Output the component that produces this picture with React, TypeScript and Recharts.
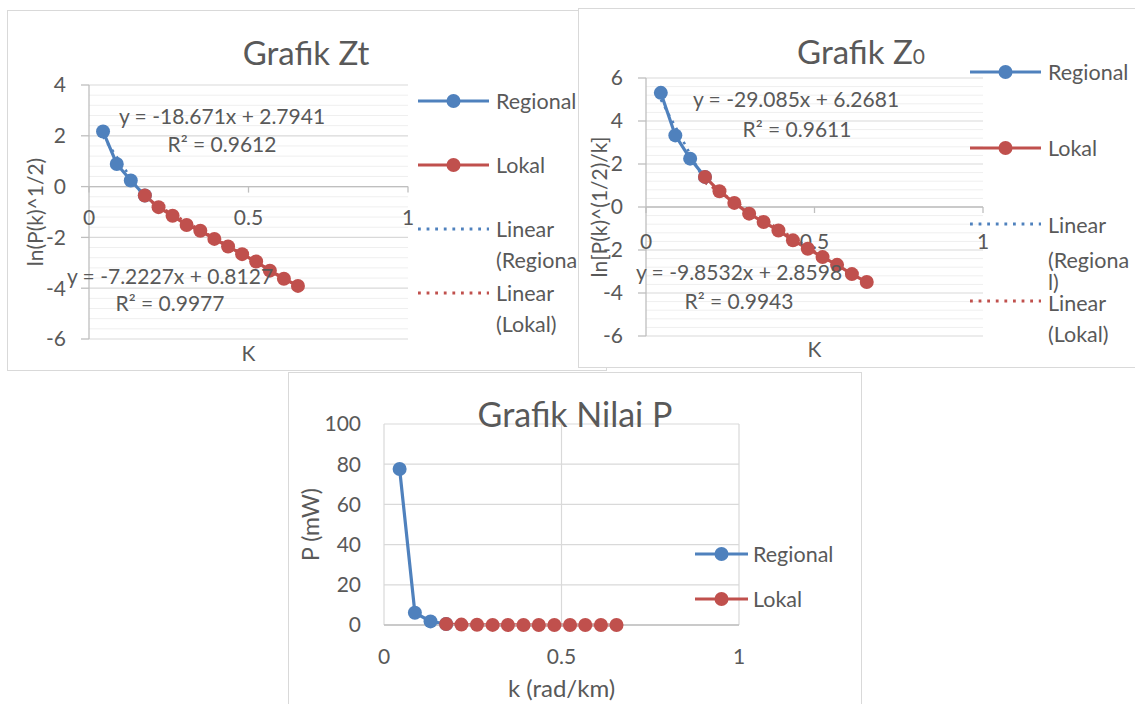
import React from 'react';
import { LineChart, Line, XAxis, YAxis, CartesianGrid, ReferenceLine, ReferenceDot } from 'recharts';

const FONT = 'Lato, "Open Sans", sans-serif';
const TXT = '#595959';
const BLUE = '#4F81BD';
const RED = '#C0504D';
const GRID = '#d9d9d9';
const MINOR = '#efefef';
const AXIS = '#bfbfbf';
const FRAME = '#d9d9d9';
const FS = 21;
const LEG_FS = 21.5;

// wavenumber k (rad/km)
const kRegional = [0.044, 0.087, 0.131, 0.175];
const kLokal = [0.175, 0.218, 0.262, 0.306, 0.349, 0.393, 0.436, 0.48, 0.524, 0.567, 0.611, 0.655];

// Grafik Zt : ln(P(k)^1/2)
const ztRegional = [2.17, 0.89, 0.24, -0.35];
const ztLokal = [-0.35, -0.81, -1.15, -1.51, -1.74, -2.06, -2.36, -2.66, -2.95, -3.31, -3.63, -3.91];
const ztRegTrendK = [0.044, 0.175];
const ztRegTrendY = [1.97, -0.47];
const ztLokTrendK = [0.175, 0.655];
const ztLokTrendY = [-0.45, -3.92];

// Grafik Z0 : ln[P(k)^(1/2)/k]
const zoRegional = [5.31, 3.33, 2.25, 1.4];
const zoLokal = [1.4, 0.73, 0.19, -0.31, -0.7, -1.09, -1.55, -1.94, -2.33, -2.69, -3.12, -3.49];
const zoRegTrendK = [0.044, 0.175];
const zoRegTrendY = [4.99, 1.18];
const zoLokTrendK = [0.175, 0.655];
const zoLokTrendY = [1.13, -3.59];

// Grafik Nilai P : P (mW)
const pRegional = [77.6, 6.1, 1.8, 0.5];
const pLokal = [0.5, 0.2, 0.1, 0.05, 0.03, 0.016, 0.009, 0.005, 0.003, 0.0013, 0.0007, 0.0004];

// tick labels
const kTicks = [0, 0.5, 1];
const ztTicks = [-6, -4, -2, 0, 2, 4];
const zoTicks = [-6, -4, -2, 0, 2, 4, 6];
const pTicks = [0, 20, 40, 60, 80, 100];

const zip = (ks: number[], ys: number[]) => ks.map((k, i) => ({ k, y: ys[i] }));

const minorValues = (min: number, max: number, major: number, minor: number) => {
  const out: number[] = [];
  const n = Math.round((max - min) / minor);
  for (let i = 1; i < n; i++) {
    const v = Math.round((min + i * minor) * 1000) / 1000;
    if (Math.abs(v / major - Math.round(v / major)) > 1e-6) out.push(v);
  }
  return out;
};

const txt = { fill: TXT, fontFamily: FONT };

const zeroTick = (label: string, offset: number) => (p: any) => (
  <g>
    <line x1={p.cx} y1={p.cy} x2={p.cx} y2={p.cy + 6} stroke={AXIS} strokeWidth={1.3} />
    <text x={p.cx} y={p.cy + offset} textAnchor="middle" dominantBaseline="central" fontSize={FS} {...txt}>
      {label}
    </text>
  </g>
);

const dotStyle = (c: string) => ({ r: 7, fill: c, stroke: c, strokeWidth: 0 });

type LegendItem = { y: number; color: string; dotted?: boolean; lines: { text: string; y: number }[] };

const Legend = ({ items, x1, x2, tx, ox, oy, w, h }: { items: LegendItem[]; x1: number; x2: number; tx: number; ox: number; oy: number; w: number; h: number }) => (
  <svg width={w} height={h} style={{ position: 'absolute', left: 0, top: 0, pointerEvents: 'none' }}>
    {items.map((it, i) => (
      <g key={i}>
        <line
          x1={x1 - ox}
          x2={x2 - ox}
          y1={it.y - oy}
          y2={it.y - oy}
          stroke={it.color}
          strokeWidth={it.dotted ? 2.8 : 3.2}
          strokeDasharray={it.dotted ? '2.8 5.8' : undefined}
        />
        {!it.dotted && <circle cx={(x1 + x2) / 2 - ox} cy={it.y - oy} r={7} fill={it.color} />}
        {it.lines.map((l, j) => (
          <text key={j} x={tx - ox} y={l.y - oy} dominantBaseline="central" fontSize={LEG_FS} {...txt}>
            {l.text}
          </text>
        ))}
      </g>
    ))}
  </svg>
);

const Labels = ({ items, ox, oy, w, h }: { items: { text: React.ReactNode; x: number; y: number; size: number; base?: boolean }[]; ox: number; oy: number; w: number; h: number }) => (
  <svg width={w} height={h} style={{ position: 'absolute', left: 0, top: 0, pointerEvents: 'none' }}>
    {items.map((it, i) => (
      <text
        key={i}
        x={it.x - ox}
        y={it.y - oy}
        textAnchor="middle"
        dominantBaseline={it.base ? 'alphabetic' : 'central'}
        fontSize={it.size}
        {...txt}
      >
        {it.text}
      </text>
    ))}
  </svg>
);

const frame = (left: number, top: number, width: number, height: number, z: number): React.CSSProperties => ({
  position: 'absolute',
  left,
  top,
  width,
  height,
  border: `1px solid ${FRAME}`,
  background: '#fff',
  boxSizing: 'border-box',
  zIndex: z,
  overflow: 'hidden',
});

const ChartZt = () => {
  const W = 598;
  const H = 359;
  const ox = 8;
  const oy = 11;
  const minor = minorValues(-6, 4, 2, 0.4);
  return (
    <div style={frame(7, 10, 600, 361, 1)}>
      <div style={{ position: 'absolute', left: 0, top: 0 }}>
        <LineChart width={W} height={H} margin={{ top: 74, right: 198, left: 0, bottom: 0 }}>
          {minor.map((v) => (
            <ReferenceLine key={v} y={v} stroke={MINOR} strokeWidth={1} />
          ))}
          <CartesianGrid vertical={false} stroke={GRID} strokeWidth={1.2} />
          <XAxis
            type="number"
            dataKey="k"
            domain={[0, 1]}
            ticks={kTicks}
            tick={false}
            axisLine={false}
            tickLine={false}
            height={31}
            label={{ value: 'K', position: 'insideBottom', offset: 9, fontSize: FS, ...txt }}
          />
          <YAxis
            type="number"
            domain={[-6, 4]}
            ticks={ztTicks}
            width={81}
            axisLine={{ stroke: AXIS, strokeWidth: 1.3 }}
            tickLine={{ stroke: AXIS, strokeWidth: 1.3 }}
            tickSize={8}
            tickMargin={15}
            tick={{ fontSize: FS, ...txt }}
            label={{ value: 'ln(P(k)^1/2)', angle: -90, position: 'insideLeft', offset: 28, fontSize: FS, ...txt, style: { textAnchor: 'middle' } }}
          />
          <ReferenceLine y={0} stroke={AXIS} strokeWidth={1.3} />
          {kTicks.map((t) => (
            <ReferenceDot key={t} x={t} y={0} r={0} shape={zeroTick(String(t), 30)} />
          ))}
          <Line data={zip(kRegional, ztRegional)} dataKey="y" stroke={BLUE} strokeWidth={3.2} dot={dotStyle(BLUE)} activeDot={false} isAnimationActive={false} />
          <Line data={zip(kLokal, ztLokal)} dataKey="y" stroke={RED} strokeWidth={3.2} dot={dotStyle(RED)} activeDot={false} isAnimationActive={false} />
          <Line data={zip(ztRegTrendK, ztRegTrendY)} dataKey="y" stroke={BLUE} strokeWidth={2.6} strokeDasharray="2.6 5.4" dot={false} activeDot={false} isAnimationActive={false} />
          <Line data={zip(ztLokTrendK, ztLokTrendY)} dataKey="y" stroke={RED} strokeWidth={2.6} strokeDasharray="2.6 5.4" dot={false} activeDot={false} isAnimationActive={false} />
        </LineChart>
      </div>
      <Labels
        ox={ox}
        oy={oy}
        w={W}
        h={H}
        items={[
          { text: 'Grafik Zt', x: 306, y: 65, size: 33, base: true },
          { text: 'y = -18.671x + 2.7941', x: 222, y: 115, size: FS },
          { text: 'R² = 0.9612', x: 222, y: 143, size: FS },
          { text: 'y = -7.2227x + 0.8127', x: 170, y: 275, size: FS },
          { text: 'R² = 0.9977', x: 170, y: 302, size: FS },
        ]}
      />
      <Legend
        ox={ox}
        oy={oy}
        w={W}
        h={H}
        x1={418}
        x2={489}
        tx={496}
        items={[
          { y: 101, color: BLUE, lines: [{ text: 'Regional', y: 101 }] },
          { y: 165, color: RED, lines: [{ text: 'Lokal', y: 165 }] },
          { y: 229, color: BLUE, dotted: true, lines: [{ text: 'Linear', y: 229 }, { text: '(Regional)', y: 260 }] },
          { y: 293, color: RED, dotted: true, lines: [{ text: 'Linear', y: 293 }, { text: '(Lokal)', y: 324 }] },
        ]}
      />
    </div>
  );
};

const ChartZo = () => {
  const W = 568;
  const H = 358;
  const ox = 579;
  const oy = 9;
  const minor = minorValues(-6, 6, 2, 0.4);
  return (
    <div style={frame(578, 8, 570, 360, 2)}>
      <div style={{ position: 'absolute', left: 0, top: 0 }}>
        <LineChart width={W} height={H} margin={{ top: 69, right: 164, left: 0, bottom: 0 }}>
          {minor.map((v) => (
            <ReferenceLine key={v} y={v} stroke={MINOR} strokeWidth={1} />
          ))}
          <CartesianGrid vertical={false} stroke={GRID} strokeWidth={1.2} />
          <XAxis
            type="number"
            dataKey="k"
            domain={[0, 1]}
            ticks={kTicks}
            tick={false}
            axisLine={false}
            tickLine={false}
            height={31}
            label={{ value: 'K', position: 'insideBottom', offset: 10, fontSize: FS, ...txt }}
          />
          <YAxis
            type="number"
            domain={[-6, 6]}
            ticks={zoTicks}
            width={67}
            axisLine={{ stroke: AXIS, strokeWidth: 1.3 }}
            tickLine={{ stroke: AXIS, strokeWidth: 1.3 }}
            tickSize={8}
            tickMargin={15}
            tick={{ fontSize: FS, ...txt }}
            label={{ value: 'ln[P(k)^(1/2)/k]', angle: -90, position: 'insideLeft', offset: 21, fontSize: FS, ...txt, style: { textAnchor: 'middle' } }}
          />
          <ReferenceLine y={0} stroke={AXIS} strokeWidth={1.3} />
          {kTicks.map((t) => (
            <ReferenceDot key={t} x={t} y={0} r={0} shape={zeroTick(String(t), 33)} />
          ))}
          <Line data={zip(kRegional, zoRegional)} dataKey="y" stroke={BLUE} strokeWidth={3.2} dot={dotStyle(BLUE)} activeDot={false} isAnimationActive={false} />
          <Line data={zip(kLokal, zoLokal)} dataKey="y" stroke={RED} strokeWidth={3.2} dot={dotStyle(RED)} activeDot={false} isAnimationActive={false} />
          <Line data={zip(zoRegTrendK, zoRegTrendY)} dataKey="y" stroke={BLUE} strokeWidth={2.6} strokeDasharray="2.6 5.4" dot={false} activeDot={false} isAnimationActive={false} />
          <Line data={zip(zoLokTrendK, zoLokTrendY)} dataKey="y" stroke={RED} strokeWidth={2.6} strokeDasharray="2.6 5.4" dot={false} activeDot={false} isAnimationActive={false} />
        </LineChart>
      </div>
      <Labels
        ox={ox}
        oy={oy}
        w={W}
        h={H}
        items={[
          {
            text: (
              <>
                Grafik Z<tspan fontSize={21}>0</tspan>
              </>
            ),
            x: 861,
            y: 64,
            size: 33,
            base: true,
          },
          { text: 'y = -29.085x + 6.2681', x: 796, y: 98, size: FS },
          { text: 'R² = 0.9611', x: 797, y: 128, size: FS },
          { text: 'y = -9.8532x + 2.8598', x: 739, y: 271, size: FS },
          { text: 'R² = 0.9943', x: 739, y: 300, size: FS },
        ]}
      />
      <Legend
        ox={ox}
        oy={oy}
        w={W}
        h={H}
        x1={970}
        x2={1041}
        tx={1048}
        items={[
          { y: 72, color: BLUE, lines: [{ text: 'Regional', y: 72 }] },
          { y: 148, color: RED, lines: [{ text: 'Lokal', y: 148 }] },
          { y: 224, color: BLUE, dotted: true, lines: [{ text: 'Linear', y: 225 }, { text: '(Regiona', y: 260 }, { text: 'l)', y: 282 }] },
          { y: 301, color: RED, dotted: true, lines: [{ text: 'Linear', y: 303 }, { text: '(Lokal)', y: 334 }] },
        ]}
      />
    </div>
  );
};

const ChartP = () => {
  const W = 572;
  const H = 331;
  const ox = 289;
  const oy = 373;
  return (
    <div style={frame(288, 372, 574, 345, 3)}>
      <div style={{ position: 'absolute', left: 0, top: 0 }}>
        <LineChart width={W} height={H} margin={{ top: 51, right: 122, left: 0, bottom: 7 }}>
          <CartesianGrid stroke={GRID} strokeWidth={1.2} />
          <XAxis
            type="number"
            dataKey="k"
            domain={[0, 1]}
            ticks={kTicks}
            axisLine={{ stroke: AXIS, strokeWidth: 1.3 }}
            tickLine={false}
            tickSize={0}
            tickMargin={24}
            tick={{ fontSize: FS, ...txt }}
            height={72}
            label={{ value: 'k (rad/km)', position: 'insideBottom', offset: 0, fontSize: 24, ...txt }}
          />
          <YAxis
            type="number"
            domain={[0, 100]}
            ticks={pTicks}
            width={95}
            axisLine={false}
            tickLine={false}
            tickSize={0}
            tickMargin={23}
            tick={{ fontSize: FS, ...txt }}
            label={{ value: 'P (mW)', angle: -90, position: 'insideLeft', offset: 22, fontSize: 23, ...txt, style: { textAnchor: 'middle' } }}
          />
          <Line data={zip(kRegional, pRegional)} dataKey="y" stroke={BLUE} strokeWidth={3.2} dot={dotStyle(BLUE)} activeDot={false} isAnimationActive={false} />
          <Line data={zip(kLokal, pLokal)} dataKey="y" stroke={RED} strokeWidth={3.2} dot={dotStyle(RED)} activeDot={false} isAnimationActive={false} />
        </LineChart>
      </div>
      <Labels ox={ox} oy={oy} w={W} h={H} items={[{ text: 'Grafik Nilai P', x: 575, y: 427, size: 34, base: true }]} />
      <Legend
        ox={ox}
        oy={oy}
        w={W}
        h={H}
        x1={695}
        x2={748}
        tx={753}
        items={[
          { y: 554, color: BLUE, lines: [{ text: 'Regional', y: 554 }] },
          { y: 599, color: RED, lines: [{ text: 'Lokal', y: 599 }] },
        ]}
      />
    </div>
  );
};

export default function App() {
  return (
    <div style={{ position: 'absolute', left: 0, top: 0, width: 1135, height: 704, overflow: 'hidden', background: '#fff', fontFamily: FONT }}>
      <ChartZt />
      <ChartZo />
      <ChartP />
    </div>
  );
}
